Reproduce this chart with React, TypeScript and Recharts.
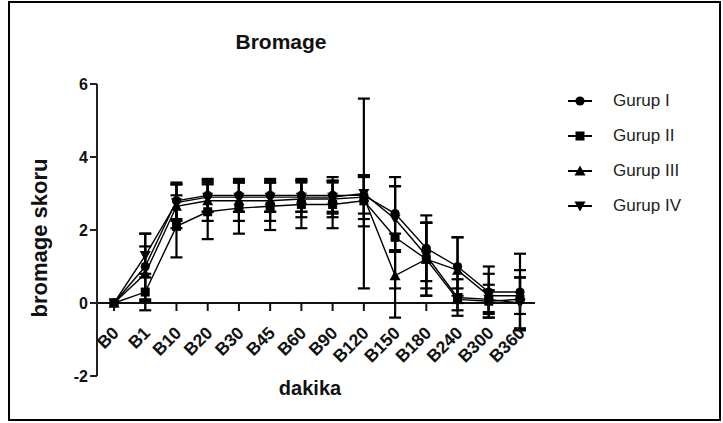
import React from 'react'
import {
  LineChart, Line, XAxis, YAxis, ErrorBar, ReferenceLine, Legend,
} from 'recharts'

const CATEGORIES = ['B0', 'B1', 'B10', 'B20', 'B30', 'B45', 'B60', 'B90', 'B120', 'B150', 'B180', 'B240', 'B300', 'B360']

const G1_MEAN = [0, 1.0, 2.8, 2.95, 2.95, 2.95, 2.95, 2.95, 2.95, 2.45, 1.5, 1.0, 0.3, 0.3]
const G1_SD = [0, 0.9, 0.5, 0.45, 0.45, 0.45, 0.45, 0.5, 0.5, 1.0, 0.9, 0.8, 0.7, 1.05]
const G2_MEAN = [0, 0.3, 2.1, 2.5, 2.6, 2.65, 2.7, 2.7, 2.8, 1.8, 1.2, 0.1, 0.05, 0.1]
const G2_SD = [0, 0.5, 0.85, 0.75, 0.7, 0.65, 0.65, 0.65, 0.7, 1.4, 1.0, 0.3, 0.3, 0.8]
const G3_MEAN = [0, 0.8, 2.65, 2.8, 2.8, 2.8, 2.85, 2.85, 2.9, 0.75, 1.2, 0.9, 0.2, 0.2]
const G3_SD = [0, 0.75, 0.6, 0.55, 0.55, 0.55, 0.5, 0.5, 0.6, 1.15, 1.0, 0.9, 0.6, 0.5]
const G4_MEAN = [0, 1.3, 2.75, 2.9, 2.9, 2.9, 2.9, 2.9, 3.0, 2.3, 1.3, 0.15, 0.1, 0.0]
const G4_SD = [0, 0.6, 0.5, 0.4, 0.4, 0.4, 0.4, 0.4, 2.6, 0.9, 0.9, 0.5, 0.4, 0.7]

const Y_TICKS = [-2, 0, 2, 4, 6]

const GROUPS = [
  { key: 'g1', name: 'Gurup I', shape: 'circle' },
  { key: 'g2', name: 'Gurup II', shape: 'square' },
  { key: 'g3', name: 'Gurup III', shape: 'triangle' },
  { key: 'g4', name: 'Gurup IV', shape: 'down' },
]

const data = CATEGORIES.map((name, i) => ({
  name,
  g1: G1_MEAN[i], g1e: G1_SD[i],
  g2: G2_MEAN[i], g2e: G2_SD[i],
  g3: G3_MEAN[i], g3e: G3_SD[i],
  g4: G4_MEAN[i], g4e: G4_SD[i],
}))

const FONT = '"Liberation Sans", Arial, sans-serif'
const W = 723
const H = 423
const X_AXIS_H = 30
const MARGIN = { top: 84, right: 188, bottom: 47 - X_AXIS_H, left: 57 }
const PLOT_H = H - MARGIN.top - MARGIN.bottom - X_AXIS_H
// distance from the bottom of the plot (y=-2) up to the y=0 line
const ZERO_SHIFT = PLOT_H * (0 - Y_TICKS[0]) / (Y_TICKS[4] - Y_TICKS[0])

function Marker({ cx, cy, shape }: { cx: number; cy: number; shape: string }) {
  if (shape === 'circle') return <circle cx={cx} cy={cy} r={4.6} fill="#000" />
  if (shape === 'square') return <rect x={cx - 4.5} y={cy - 4.5} width={9} height={9} fill="#000" />
  if (shape === 'triangle') {
    return <polygon points={`${cx},${cy - 5.5} ${cx + 5.5},${cy + 4.5} ${cx - 5.5},${cy + 4.5}`} fill="#000" />
  }
  return <polygon points={`${cx},${cy + 5.5} ${cx + 5.5},${cy - 4.5} ${cx - 5.5},${cy - 4.5}`} fill="#000" />
}

const dotFor = (shape: string) => (p: any) => (
  <Marker key={`${shape}-${p.index}`} cx={p.cx} cy={p.cy} shape={shape} />
)

function XTick({ x, y, payload }: any) {
  const y0 = y - ZERO_SHIFT
  const ax = x + 6
  const ay = y0 + 31
  return (
    <g>
      <line x1={x} x2={x} y1={y0} y2={y0 + 8} stroke="#111" strokeWidth={2} />
      <text
        x={ax}
        y={ay}
        textAnchor="end"
        transform={`rotate(-45 ${ax} ${ay})`}
        fontFamily={FONT}
        fontWeight="bold"
        fontSize={17.5}
        fill="#111"
      >
        {payload.value}
      </text>
    </g>
  )
}

function YLabel({ viewBox }: any) {
  const x = viewBox.x - 10
  const y = viewBox.y + viewBox.height / 2 + 8
  return (
    <text
      x={x}
      y={y}
      textAnchor="middle"
      transform={`rotate(-90 ${x} ${y})`}
      fontFamily={FONT}
      fontWeight="bold"
      fontSize={22}
      fill="#111"
    >
      bromage skoru
    </text>
  )
}

function XLabel({ viewBox }: any) {
  return (
    <text
      x={viewBox.x + viewBox.width / 2 - 6}
      y={viewBox.y + 19}
      textAnchor="middle"
      fontFamily={FONT}
      fontWeight="bold"
      fontSize={20}
      fill="#111"
    >
      dakika
    </text>
  )
}

function LegendBox({ payload }: any) {
  return (
    <div style={{ fontFamily: FONT, fontSize: 17, color: '#222' }}>
      {(payload || []).map((entry: any, i: number) => (
        <div key={entry.value} style={{ display: 'flex', alignItems: 'center', height: 35 }}>
          <svg width={40} height={20}>
            <line x1={8} x2={32} y1={10} y2={10} stroke="#000" strokeWidth={2} />
            <Marker cx={20} cy={10} shape={GROUPS[i].shape} />
          </svg>
          <span style={{ marginLeft: 13 }}>{entry.value}</span>
        </div>
      ))}
    </div>
  )
}

export default function App() {
  return (
    <div style={{ position: 'absolute', left: 0, top: 0, width: W, height: H, background: '#fff' }}>
      <div
        style={{
          position: 'absolute', left: 8, top: 1, width: 713, height: 420,
          border: '2px solid #000', boxSizing: 'border-box',
        }}
      />
      <div
        style={{
          position: 'absolute', left: 181, width: 200, top: 30, textAlign: 'center',
          fontFamily: FONT, fontWeight: 'bold', fontSize: 21, color: '#111',
        }}
      >
        Bromage
      </div>
      <div style={{ position: 'absolute', left: 0, top: 0 }}>
        <LineChart width={W} height={H} data={data} margin={MARGIN}>
          <XAxis
            dataKey="name"
            scale="point"
            padding={{ left: 17, right: 15 }}
            axisLine={false}
            tickLine={false}
            tickSize={0}
            tickMargin={0}
            height={X_AXIS_H}
            interval={0}
            tick={<XTick />}
            label={<XLabel />}
          />
          <YAxis
            domain={[-2, 6]}
            ticks={Y_TICKS}
            width={40}
            tickSize={7}
            allowDataOverflow
            axisLine={{ stroke: '#222', strokeWidth: 2 }}
            tickLine={{ stroke: '#222', strokeWidth: 2 }}
            tick={{ fill: '#111', fontSize: 16, fontWeight: 'bold', fontFamily: FONT }}
            label={<YLabel />}
          />
          <ReferenceLine y={0} stroke="#111" strokeWidth={2} />
          {GROUPS.map(g => (
            <Line
              key={g.key}
              dataKey={g.key}
              name={g.name}
              stroke="#000"
              strokeWidth={1.4}
              dot={dotFor(g.shape)}
              activeDot={false}
              isAnimationActive={false}
            >
              <ErrorBar dataKey={`${g.key}e`} width={6} strokeWidth={2.2} stroke="#000" direction="y" />
            </Line>
          ))}
          <Legend
            layout="vertical"
            align="center"
            verticalAlign="middle"
            content={<LegendBox />}
            wrapperStyle={{ left: 560, top: 83, width: 160 }}
          />
        </LineChart>
      </div>
    </div>
  )
}
